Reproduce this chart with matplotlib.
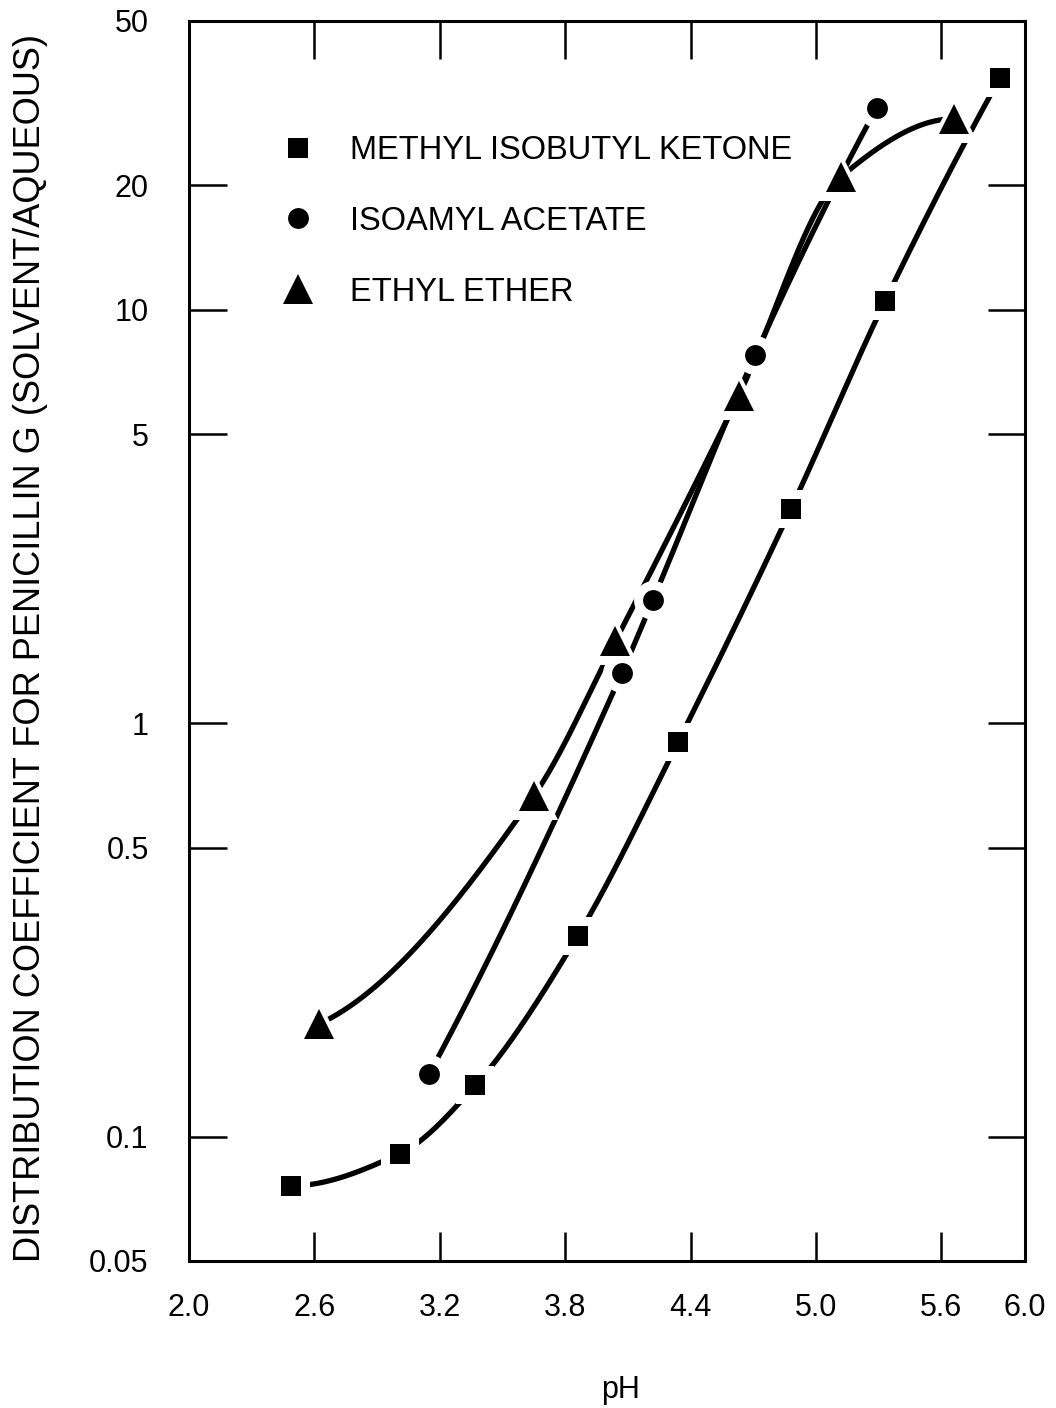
import numpy as np
import matplotlib
matplotlib.use("Agg")
import matplotlib.pyplot as plt
from matplotlib.ticker import FixedLocator, FixedFormatter, NullLocator

plt.rcParams['font.family'] = ['Liberation Sans', 'DejaVu Sans']

# values (pH, distribution coefficient)
mibk_ph = [2.49, 3.01, 3.37, 3.86, 4.34, 4.88, 5.33, 5.88]
mibk_k = [0.076, 0.091, 0.133, 0.306, 0.90, 3.3, 10.5, 36.4]
iso_ph = [3.15, 4.07, 4.22, 4.71, 5.29]
iso_k = [0.142, 1.32, 1.99, 7.8, 30.8]
ether_ph = [2.62, 3.65, 4.04, 4.63, 5.12, 5.66]
ether_k = [0.187, 0.668, 1.58, 6.2, 21.0, 29.0]

x_ticks = [2.0, 2.6, 3.2, 3.8, 4.4, 5.0, 5.6, 6.0]
x_labels = ["2.0", "2.6", "3.2", "3.8", "4.4", "5.0", "5.6", "6.0"]
y_ticks = [0.05, 0.1, 0.5, 1, 5, 10, 20, 50]
y_labels = ["0.05", "0.1", "0.5", "1", "5", "10", "20", "50"]


def smooth(x, y, num=300):
    # monotone cubic (pchip) through the points, done in log10(y)
    x = np.asarray(x, float)
    y = np.log10(np.asarray(y, float))
    h = np.diff(x)
    d = np.diff(y) / h
    m = np.zeros_like(x)
    for k in range(1, len(x) - 1):
        if d[k - 1] * d[k] > 0:
            w1 = 2 * h[k] + h[k - 1]
            w2 = h[k] + 2 * h[k - 1]
            m[k] = (w1 + w2) / (w1 / d[k - 1] + w2 / d[k])

    def end(h0, h1, d0, d1):
        s = ((2 * h0 + h1) * d0 - h0 * d1) / (h0 + h1)
        if np.sign(s) != np.sign(d0):
            s = 0.0
        elif np.sign(d0) != np.sign(d1) and abs(s) > abs(3 * d0):
            s = 3 * d0
        return s

    m[0] = end(h[0], h[1], d[0], d[1])
    m[-1] = end(h[-1], h[-2], d[-1], d[-2])
    xs = np.linspace(x[0], x[-1], num)
    i = np.clip(np.searchsorted(x, xs) - 1, 0, len(h) - 1)
    t = (xs - x[i]) / h[i]
    ys = ((2 * t**3 - 3 * t**2 + 1) * y[i] + (t**3 - 2 * t**2 + t) * h[i] * m[i]
          + (-2 * t**3 + 3 * t**2) * y[i + 1] + (t**3 - t**2) * h[i] * m[i + 1])
    return xs, 10 ** ys


fig = plt.figure(figsize=(10.56, 14.08), dpi=100)
ax = fig.add_axes([189 / 1056, 147 / 1408, 836 / 1056, 1240 / 1408])
ax.set_yscale('log')

series = [
    (mibk_ph, mibk_k, 's', 15, 28, "METHYL ISOBUTYL KETONE"),
    (iso_ph, iso_k, 'o', 15, 28, "ISOAMYL ACETATE"),
    (ether_ph, ether_k, '^', 21, 34, "ETHYL ETHER"),
]

handles = []
for ph, k, mk, ms, halo, name in series:
    xs, ys = smooth(ph, k)
    ax.plot(xs, ys, color='black', lw=3.8, solid_capstyle='round', zorder=2)
for ph, k, mk, ms, halo, name in series:
    # white halo gives the gap between the curve and each marker
    ax.plot(ph, k, ls='none', marker=mk, ms=halo, color='white', mew=0, zorder=3)
for ph, k, mk, ms, halo, name in series:
    h, = ax.plot(ph, k, ls='none', marker=mk, ms=ms, color='black', mew=0,
                 zorder=4, label=name)
    handles.append(h)

ax.set_xlim(2.0, 6.0)
ax.set_ylim(0.05, 50)
ax.xaxis.set_major_locator(FixedLocator(x_ticks))
ax.xaxis.set_major_formatter(FixedFormatter(x_labels))
ax.yaxis.set_major_locator(FixedLocator(y_ticks))
ax.yaxis.set_major_formatter(FixedFormatter(y_labels))
ax.yaxis.set_minor_locator(NullLocator())
ax.xaxis.set_minor_locator(NullLocator())

ax.tick_params(direction='in', top=True, right=True, length=27, width=1.8,
               color='black')
ax.tick_params(axis='x', labelsize=22, pad=23)
ax.tick_params(axis='y', labelsize=22, pad=29)
for t in ax.xaxis.get_major_ticks():
    t.tick1line.set_markersize(21)
for s in ax.spines.values():
    s.set_linewidth(2.2)

ax.set_xlabel("pH", fontsize=22, va='center')
ax.xaxis.set_label_coords(0.516, -0.104)
ax.set_ylabel("DISTRIBUTION COEFFICIENT FOR PENICILLIN G (SOLVENT/AQUEOUS)",
              fontsize=26, va='center')
ax.yaxis.set_label_coords(-0.19, 0.494)

ax.legend(handles=handles, loc='upper left', bbox_to_anchor=(0.111, 0.908),
          frameon=False, fontsize=23.5, numpoints=1, handlelength=1.0,
          handletextpad=1.09, labelspacing=1.22, borderpad=0, borderaxespad=0)

fig.savefig("out.png", dpi=100, facecolor='white')
